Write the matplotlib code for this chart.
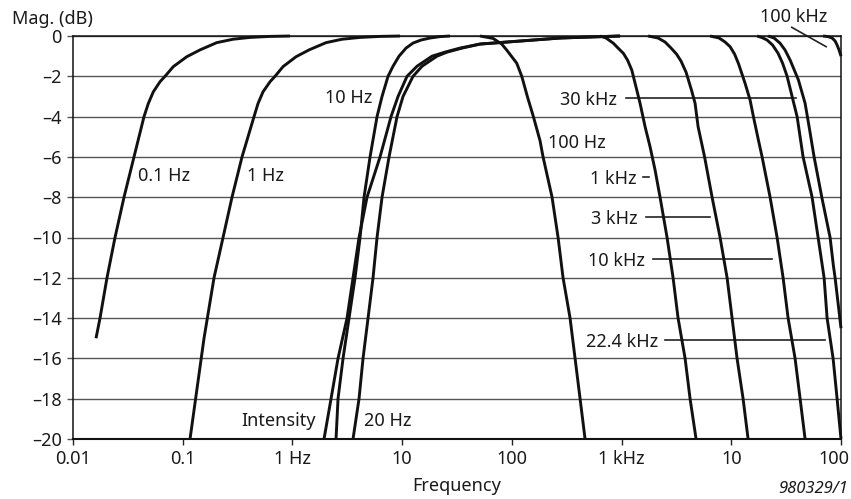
import matplotlib
matplotlib.use("Agg")
import matplotlib.pyplot as plt
from matplotlib.transforms import ScaledTranslation

plt.rcParams['font.family'] = ['Noto Sans', 'DejaVu Sans']

# ---- data ----
hp_01_f = [0.01621, 0.01763, 0.02041, 0.02415, 0.02917, 0.03598, 0.04439, 0.04858,
           0.05395, 0.06209, 0.06899, 0.08208, 0.1088, 0.1438, 0.2041, 0.2874,
           0.4108, 0.6249, 0.95]
hp_01_db = [-15, -14, -12, -10, -8, -6, -4, -3.35, -2.77, -2.27, -2.0, -1.52, -1.03,
            -0.69, -0.33, -0.16, -0.07, -0.02, 0]

hp_1_f = [0.1166, 0.1350, 0.1564, 0.1929, 0.2331, 0.2814, 0.3472, 0.4467, 0.4858,
          0.5395, 0.6249, 0.6941, 0.8210, 1.078, 1.417, 2.025, 2.832, 4.133, 6.288, 9.57]
hp_1_db = [-20, -17.5, -15, -12, -10, -8, -6, -4, -3.35, -2.77, -2.27, -2.0, -1.52,
           -1.03, -0.69, -0.33, -0.16, -0.07, -0.02, 0]

hp_int_f = [1.941, 2.249, 2.604, 3.146, 3.567, 4.046, 4.786, 6.288, 7.921, 9.175,
            11.08, 13.67, 18.74, 24.61, 33.72, 51.30, 118.8, 275.0, 969]
hp_int_db = [-20, -18, -16, -14, -12, -10, -8, -6, -4, -3, -2, -1.5, -1, -0.8,
             -0.6, -0.4, -0.25, -0.1, 0]

hp_20_f = [3.567, 4.046, 4.401, 4.890, 5.428, 5.905, 6.558, 7.596, 8.986, 10.19,
           12.57, 15.19, 20.80, 25.67, 35.16, 51.30, 118.8, 275.0, 969]
hp_20_db = [-20, -18, -16, -14, -12, -10, -8, -6, -4, -3, -2, -1.5, -1, -0.8,
            -0.6, -0.4, -0.25, -0.1, 0]

hp_10_f = [2.497, 2.604, 2.893, 3.281, 3.721, 4.133, 4.495, 5.099, 5.905, 6.558,
           7.437, 8.260, 9.371, 10.85, 12.57, 14.87, 17.96, 22.16, 27.33]
hp_10_db = [-20, -18, -16, -14, -12, -10, -8, -6, -4, -3, -2, -1.5, -1, -0.6,
            -0.35, -0.2, -0.1, -0.03, 0]

lp_100_f = [51.30, 67.40, 80.86, 89.84, 110.8, 123.1, 138.4, 157.1, 180.7, 192.5,
            232.5, 263.8, 292.9, 339.3, 376.9, 418.6, 464.8]
lp_100_db = [0, -0.12, -0.4, -0.7, -1.35, -2.0, -3.0, -4, -5.2, -6, -8, -10, -12,
             -14, -16, -18, -20]

lp_1k_f = [636.8, 722.3, 842.0, 929.2, 1038.5, 1134, 1239, 1376, 1474, 1638, 1819,
           2020, 2243, 2598, 2948, 3273, 3793, 4211, 4776]
lp_1k_db = [0, -0.1, -0.36, -0.6, -0.86, -1.2, -1.69, -2.68, -3.34, -4.5, -5.5,
            -6.65, -8, -10, -12, -14, -16, -18, -20]

lp_3k_f = [1744, 2151, 2492, 2827, 3172, 3486, 3873, 4346, 4677, 4983, 5710, 6683,
           7906, 9158, 10170, 11290, 12810, 14230]
lp_3k_db = [0, -0.1, -0.3, -0.6, -0.9, -1.25, -1.8, -2.7, -3.34, -4.5, -6, -8, -10,
            -12, -14, -16, -18, -20]

lp_10k_f = [6408, 7742, 8781, 9752, 10720, 11610, 12540, 13360, 14840, 15910, 17660,
            19090, 22580, 26160, 29670, 32950, 38150, 42390, 47070]
lp_10k_db = [0, -0.1, -0.3, -0.53, -0.9, -1.36, -1.9, -2.35, -3.18, -4, -5.16, -6,
             -8, -10, -12, -14, -16, -18, -20]

lp_22k_f = [17190, 19090, 21200, 23800, 26710, 29350, 32270, 35830, 39800, 45130,
            54520, 61850, 70150, 74700, 84720, 92140, 100000]
lp_22k_db = [0, -0.08, -0.2, -0.45, -0.86, -1.35, -2, -3, -4, -6, -8, -10, -12,
             -14, -16, -18, -20]

lp_30k_f = [21650, 24550, 27860, 30930, 34360, 40900, 47070, 51200, 56860, 66830,
            79540, 85250, 88370, 100000]
lp_30k_db = [0, -0.1, -0.36, -0.7, -1.19, -2.18, -3.34, -4.5, -6, -8, -10, -11.4,
             -12, -14.5]

lp_100k_f = [68660, 76260, 82970, 88370, 92140, 96100, 100000]
lp_100k_db = [0, -0.03, -0.1, -0.25, -0.45, -0.7, -1.0]

y_ticks = [0, -2, -4, -6, -8, -10, -12, -14, -16, -18, -20]
y_tick_labels = ['0', '–2', '–4', '–6', '–8', '–10', '–12', '–14', '–16', '–18', '–20']
x_ticks = [0.01, 0.1, 1, 10, 100, 1000, 10000, 100000]
x_tick_labels = ['0.01', '0.1', '1 Hz', '10', '100', '1 kHz', '10', '100']

curves = [(hp_01_f, hp_01_db), (hp_1_f, hp_1_db), (hp_int_f, hp_int_db),
          (hp_20_f, hp_20_db), (hp_10_f, hp_10_db), (lp_100_f, lp_100_db),
          (lp_1k_f, lp_1k_db), (lp_3k_f, lp_3k_db), (lp_10k_f, lp_10k_db),
          (lp_22k_f, lp_22k_db), (lp_30k_f, lp_30k_db), (lp_100k_f, lp_100k_db)]

# ---- figure ----
W, H = 851, 499
FS = 13
fig = plt.figure(figsize=(W / 100, H / 100), dpi=100)
ax = fig.add_axes([73 / W, 1 - 439 / H, (841 - 73) / W, (439 - 36) / H])
ax.set_xscale('log')
ax.set_xlim(0.01, 100000)
ax.set_ylim(-20, 0)

ax.set_yticks(y_ticks)
ax.set_yticklabels(y_tick_labels)
ax.set_xticks(x_ticks)
ax.set_xticklabels(x_tick_labels)
ax.minorticks_off()
ax.tick_params(axis='both', labelsize=FS, labelcolor='#1a1a1a', length=4, width=1.0)
ax.tick_params(axis='y', color='#555555', pad=4)
ax.tick_params(axis='x', color='#222222', pad=4)
ax.yaxis.grid(True, color='#555555', linewidth=1.0)
ax.set_axisbelow(True)
for s in ax.spines.values():
    s.set_color('#111111')
    s.set_linewidth(1.1)
ax.spines['bottom'].set_linewidth(1.5)

# last x tick label sits slightly left of its tick, as in the reference
last = ax.get_xticklabels()[-1]
last.set_transform(last.get_transform() + ScaledTranslation(-7 / 100, 0, fig.dpi_scale_trans))

for f, db in curves:
    ax.plot(f, db, color='#111111', lw=2.1, solid_joinstyle='round',
            solid_capstyle='butt', clip_on=False, zorder=3)

txt = dict(fontsize=FS, color='#1a1a1a', va='center_baseline')
ax.text(0.03913, -6.85, '0.1 Hz', ha='left', **txt)
ax.text(0.3832, -6.85, '1 Hz', ha='left', **txt)
ax.text(1.983, -2.98, '10 Hz', ha='left', **txt)
ax.text(213.8, -5.2, '100 Hz', ha='left', **txt)
ax.text(0.3450, -19.0, 'Intensity', ha='left', **txt)
ax.text(4.495, -19.0, '20 Hz', ha='left', **txt)

lead = dict(color='#222222', lw=1.2)
def leader(label, xtext, y, x0, x1):
    ax.text(xtext, y, label, ha='right', **txt)
    ax.plot([x0, x1], [y, y], clip_on=False, zorder=2, **lead)

leader('30 kHz', 903.6, -3.06, 1099, 38730)
leader('1 kHz', 1376, -7.0, 1560, 1792)
leader('3 kHz', 1405, -8.97, 1672, 6408)
leader('10 kHz', 1638, -11.07, 1937, 23400)
leader('22.4 kHz', 2151, -15.1, 2492, 71640)

ax.text(36840, 1.04, '100 kHz', ha='center', clip_on=False, **txt)
ax.plot([35600, 73150], [0.43, -0.53], clip_on=False, zorder=2, **lead)

fig.text(12 / W, 1 - 17 / H, 'Mag. (dB)', fontsize=FS, color='#1a1a1a',
         ha='left', va='center_baseline')
fig.text(457 / W, 1 - 484 / H, 'Frequency', fontsize=FS, color='#1a1a1a',
         ha='center', va='center_baseline')
fig.text(848 / W, 1 - 487 / H, '980329/1', fontsize=FS - 1, color='#1a1a1a',
         ha='right', va='center_baseline', style='italic')

fig.savefig('out.png', dpi=100)
